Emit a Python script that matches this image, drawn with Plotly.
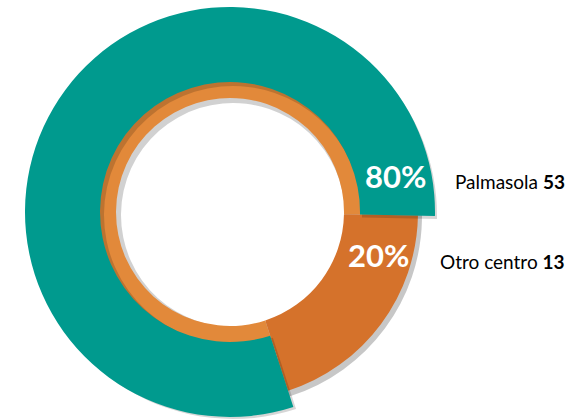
import plotly.graph_objects as go

categories = ["Palmasola", "Otro centro"]
counts = [53, 13]
percents = ["80%", "20%"]

W, H = 574, 419
CX, CY = 230, 212  # pixel center (from top)

def dom(r, dx=0, dy=0):
    cx, cy = CX + dx, H - (CY + dy)
    return dict(x=[max(0, (cx - r) / W), min(1, (cx + r) / W)],
                y=[max(0, (cy - r) / H), min(1, (cy + r) / H)])

TEAL = "#009A8E"
ORANGE = "#D5722B"
ORANGE_LIGHT = "#E2893A"
NONE = "rgba(0,0,0,0)"

common = dict(sort=False, direction="clockwise", rotation=162, textinfo="none",
              hoverinfo="skip", showlegend=False)

fig = go.Figure()
# inset shadow inside the hole (top-left)
fig.add_trace(go.Pie(values=counts, labels=categories, hole=112 / 140,
                     marker=dict(colors=["rgba(0,0,0,0.18)"] * 2, line=dict(width=0)),
                     domain=dom(140, 3, 3), **common))
# orange drop shadow (outer only)
fig.add_trace(go.Pie(values=counts, labels=categories, hole=150 / 189,
                     marker=dict(colors=["rgba(0,0,0,0.22)"] * 2, line=dict(width=0)),
                     domain=dom(189, 3, 4), **common))
# orange base (full ring)
fig.add_trace(go.Pie(values=counts, labels=categories, hole=114 / 188,
                     marker=dict(colors=[ORANGE_LIGHT, ORANGE], line=dict(width=0)),
                     domain=dom(188), **common))
# teal shadow
fig.add_trace(go.Pie(values=counts, labels=categories, hole=129 / 204,
                     marker=dict(colors=["rgba(0,0,0,0.16)", NONE], line=dict(width=0)),
                     domain=dom(204, 3, 3), **common))
# teal ring
fig.add_trace(go.Pie(values=counts, labels=categories, hole=130 / 205,
                     marker=dict(colors=[TEAL, NONE], line=dict(width=0)),
                     domain=dom(205), **common))

# percentage labels
pct_pos = [(395, 176), (378, 255)]
for p, (x, y) in zip(percents, pct_pos):
    fig.add_annotation(x=x / W, y=1 - y / H, xref="paper", yref="paper",
                       text=f"<b>{p}</b>", showarrow=False, xanchor="center", yanchor="middle",
                       font=dict(family="Lato", size=31, color="white"))

# category labels
lab_pos = [(567, 181), (567, 261)]
for c, n, (x, y) in zip(categories, counts, lab_pos):
    fig.add_annotation(x=x / W, y=1 - y / H, xref="paper", yref="paper",
                       text=f"{c} <b>{n}</b>", showarrow=False, xanchor="right", yanchor="middle",
                       font=dict(family="Lato", size=19, color="black"))

fig.update_layout(width=W, height=H, margin=dict(l=0, r=0, t=0, b=0),
                  paper_bgcolor="white", plot_bgcolor="white")
fig.write_html("out.html")
